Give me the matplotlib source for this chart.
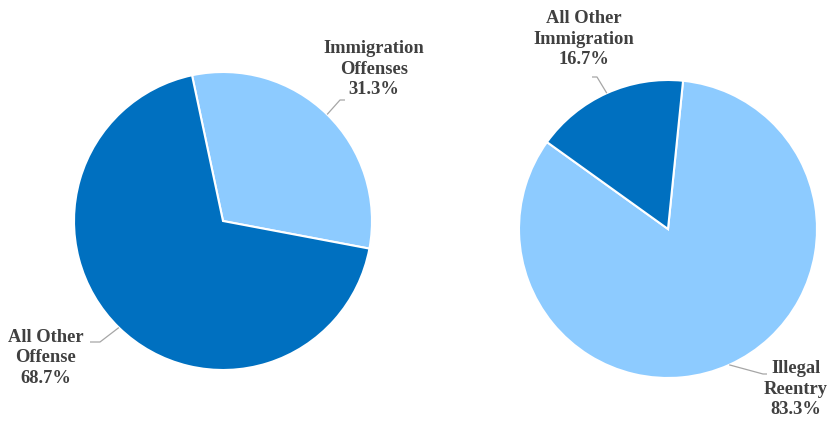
import numpy as np
import matplotlib.pyplot as plt

plt.rcParams['font.family'] = ['Liberation Serif', 'DejaVu Serif']

# offense mix, all cases
left_labels = ['Immigration\nOffenses', 'All Other\nOffense']
left_values = [31.3, 68.7]
# immigration cases split
right_labels = ['Illegal\nReentry', 'All Other\nImmigration']
right_values = [83.3, 16.7]

dark = '#0070C0'
light = '#8DCBFF'
text_color = '#404040'

W, H = 829, 421
fig = plt.figure(figsize=(W / 100, H / 100), dpi=100)
ax = fig.add_axes([0, 0, 1, 1])
ax.set_xlim(0, W)
ax.set_ylim(0, H)
ax.set_aspect('equal')
ax.axis('off')

R = 149
pies = [
    dict(values=left_values, labels=left_labels, colors=[light, dark],
         center=(223, H - 221), start=102,
         # label centre, elbow, end of leader
         spots=[((374, H - 69), (340, H - 100), (345, H - 100)),
                ((46, H - 358), (100, H - 342), (90, H - 342))]),
    dict(values=right_values, labels=right_labels, colors=[light, dark],
         center=(668, H - 229), start=84.2,
         spots=[((796, H - 389), (763, H - 374), (767, H - 374)),
                ((584, H - 39), (597, H - 77), (592, H - 77))]),
]

for p in pies:
    wedges, _ = ax.pie(p['values'], colors=p['colors'], startangle=p['start'],
                       counterclock=False, center=p['center'], radius=R,
                       wedgeprops=dict(edgecolor='white', linewidth=1.5))
    for w, lab, val, (txt, elbow, end) in zip(wedges, p['labels'], p['values'], p['spots']):
        mid = np.deg2rad((w.theta1 + w.theta2) / 2)
        cx, cy = p['center']
        ex, ey = cx + R * np.cos(mid), cy + R * np.sin(mid)
        ax.plot([ex, elbow[0], end[0]], [ey, elbow[1], end[1]],
                color='#A6A6A6', lw=0.9, solid_capstyle='butt')
        ax.text(txt[0], txt[1], f'{lab}\n{val:.1f}%', ha='center', va='center',
                fontsize=13.3, fontweight='bold', color=text_color, linespacing=1.27)

ax.set_xlim(0, W)
ax.set_ylim(0, H)
fig.savefig('out.png', dpi=100)
